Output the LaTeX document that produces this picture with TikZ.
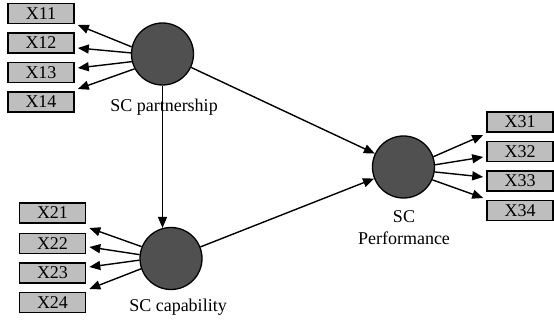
\documentclass[tikz,border=0pt]{standalone}
\usepackage{fontspec}
\setmainfont{Liberation Serif}
\usetikzlibrary{arrows.meta}
\definecolor{boxgrey}{HTML}{BEBEBE}
\definecolor{latentgrey}{HTML}{505050}
\begin{document}
\begin{tikzpicture}[x=1pt,y=-1pt,
  font=\fontsize{18}{21.6}\selectfont,
  indicator/.style={draw=black,line width=1.6pt,fill=boxgrey,minimum width=66pt,minimum height=20pt,inner sep=0pt},
  latent/.style={circle,draw=black,line width=1.3pt,fill=latentgrey,minimum size=62pt,inner sep=0pt},
  link/.style={line width=1.4pt,-{Triangle[length=11pt,width=9pt]}}]
\useasboundingbox (0,0) rectangle (554,320);

% latent constructs
\node[latent] (pship) at (162.5,54) {};
\node[latent] (cap) at (171,258.5) {};
\node[latent] (perf) at (403.5,167) {};

\node[anchor=base] (lpship) at (164,112) {SC partnership};
\node[anchor=base] (lcap) at (178,311) {SC capability};
\node[anchor=base] (lperf) at (404,223) {SC};
\node[anchor=base] (lperf2) at (404,245) {Performance};

% indicators
\node[indicator] (x11) at (41,13.5) {X11};
\node[indicator] (x12) at (41,43) {X12};
\node[indicator] (x13) at (41,72.5) {X13};
\node[indicator] (x14) at (41,102) {X14};

\node[indicator] (x21) at (52.5,213) {X21};
\node[indicator] (x22) at (52.5,243.5) {X22};
\node[indicator] (x23) at (52.5,273) {X23};
\node[indicator] (x24) at (52.5,302.5) {X24};

\node[indicator] (x31) at (520,122) {X31};
\node[indicator] (x32) at (520,151.5) {X32};
\node[indicator] (x33) at (520,181) {X33};
\node[indicator] (x34) at (520,210.5) {X34};

% structural paths
\draw[link] (pship) -- (perf);
\draw[link] (cap) -- (perf);
\draw[link] (pship.south) -- (pship.south |- cap.105);

% measurement paths
\draw[link] (pship.167) -- ([shift={(3,11.5)}]x11.east);
\draw[link] (pship.178) -- ([shift={(3,5)}]x12.east);
\draw[link] (pship.194) -- ([shift={(3,-4.5)}]x13.east);
\draw[link] (pship.208) -- ([shift={(3,-13)}]x14.east);

\draw[link] (cap.158) -- ([shift={(3,15)}]x21.east);
\draw[link] (cap.173) -- ([shift={(3,3.5)}]x22.east);
\draw[link] (cap.183) -- ([shift={(3,-6)}]x23.east);
\draw[link] (cap.199) -- ([shift={(3,-13.5)}]x24.east);

\draw[link] (perf.19) -- ([shift={(-3,13)}]x31.west);
\draw[link] (perf.4) -- ([shift={(-3,5.5)}]x32.west);
\draw[link] (perf.-9) -- ([shift={(-3,-4)}]x33.west);
\draw[link] (perf.-24) -- ([shift={(-3,-12.5)}]x34.west);
\end{tikzpicture}
\end{document}
